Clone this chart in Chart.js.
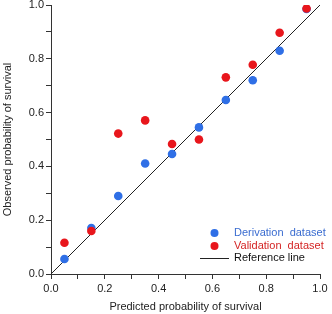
<!DOCTYPE html>
<html>
<head>
<meta charset="utf-8">
<script src="https://cdn.jsdelivr.net/npm/chart.js@4/dist/chart.umd.min.js"></script>
<style>
  html, body { margin: 0; padding: 0; background: #fff; }
  #wrap { width: 332px; height: 314px; }
</style>
</head>
<body>
<div id="wrap"><canvas id="c" width="332" height="314"></canvas></div>
<script>
// ---- data ----
const predicted = [0.05, 0.15, 0.25, 0.35, 0.45, 0.55, 0.65, 0.75, 0.85, 0.95];
const derivation = [0.056, 0.171, 0.29, 0.411, 0.446, 0.545, 0.647, 0.72, 0.83, 0.985];
const validation = [0.116, 0.16, 0.522, 0.571, 0.483, 0.5, 0.731, 0.778, 0.897, 0.987];
const referenceLine = [0, 1];
const tickValues = [0, 0.2, 0.4, 0.6, 0.8, 1.0];
const seriesNames = ['Derivation  dataset', 'Validation  dataset', 'Reference line'];
const xTitle = 'Predicted probability of survival';
const yTitle = 'Observed probability of survival';

const BLUE = '#2f6fe6';
const RED = '#e8161c';
const FONT = '"Liberation Sans", Arial, Helvetica, sans-serif';

const toPts = arr => arr.map((v, i) => ({ x: predicted[i], y: v }));

const legendPlugin = {
  id: 'customLegend',
  afterDraw(chart) {
    const ctx = chart.ctx;
    const a = chart.chartArea;
    ctx.save();
    ctx.font = '11px ' + FONT;
    ctx.textBaseline = 'middle';
    ctx.textAlign = 'left';
    const dotX = a.right - 105.5;
    const textX = a.right - 86;
    const rows = [a.bottom - 41, a.bottom - 28, a.bottom - 16];
    // Derivation
    ctx.fillStyle = BLUE;
    ctx.beginPath(); ctx.arc(dotX, rows[0], 4, 0, Math.PI * 2); ctx.fill();
    ctx.fillStyle = '#3a6cd0';
    ctx.fillText(seriesNames[0], textX, rows[0]);
    // Validation
    ctx.fillStyle = RED;
    ctx.beginPath(); ctx.arc(dotX, rows[1], 4, 0, Math.PI * 2); ctx.fill();
    ctx.fillStyle = '#d42424';
    ctx.fillText(seriesNames[1], textX, rows[1]);
    // Reference line
    ctx.strokeStyle = '#222';
    ctx.lineWidth = 1;
    ctx.beginPath();
    ctx.moveTo(a.right - 120, rows[2] + 0.5);
    ctx.lineTo(a.right - 91, rows[2] + 0.5);
    ctx.stroke();
    ctx.fillStyle = '#111';
    ctx.fillText(seriesNames[2], textX, rows[2]);
    ctx.restore();
  }
};

const tickCb = v => {
  const r = Math.round(v * 10) / 10;
  return tickValues.some(t => Math.abs(t - r) < 1e-9) ? r.toFixed(1) : '';
};

new Chart(document.getElementById('c'), {
  type: 'scatter',
  data: {
    datasets: [
      {
        label: seriesNames[2],
        type: 'line',
        data: referenceLine.map(v => ({ x: v, y: v })),
        borderColor: '#222',
        borderWidth: 1,
        pointRadius: 0,
        fill: false,
        order: 3
      },
      {
        label: seriesNames[0],
        data: toPts(derivation),
        backgroundColor: BLUE,
        borderWidth: 0,
        pointRadius: 4.3,
        order: 2
      },
      {
        label: seriesNames[1],
        data: toPts(validation),
        backgroundColor: RED,
        borderWidth: 0,
        pointRadius: 4.3,
        order: 1
      }
    ]
  },
  options: {
    responsive: false,
    animation: false,
    devicePixelRatio: 1,
    layout: { padding: { left: 0, right: 12, top: 5, bottom: 0 } },
    plugins: { legend: { display: false }, tooltip: { enabled: false } },
    scales: {
      x: {
        type: 'linear',
        min: 0, max: 1,
        afterFit(s) { s.height = 40; s.paddingLeft = 0; s.paddingRight = 0; },
        ticks: {
          stepSize: 0.1, autoSkip: false, maxRotation: 0,
          callback: tickCb,
          font: { family: FONT, size: 11 }, color: '#222', padding: 3
        },
        grid: { drawOnChartArea: false, drawTicks: true, tickLength: 5, color: '#333' },
        border: { color: '#333', width: 1 },
        title: {
          display: true, text: xTitle,
          font: { family: FONT, size: 11 }, color: '#222',
          padding: { top: 3.5, bottom: 0 }
        }
      },
      y: {
        type: 'linear',
        min: 0, max: 1,
        afterFit(s) { s.width = 51; s.paddingTop = 0; s.paddingBottom = 0; },
        ticks: {
          stepSize: 0.1, autoSkip: false,
          callback: tickCb,
          font: { family: FONT, size: 11 }, color: '#222', padding: 2
        },
        grid: { drawOnChartArea: false, drawTicks: true, tickLength: 5, color: '#333' },
        border: { color: '#333', width: 1 },
        title: {
          display: true, text: yTitle,
          font: { family: FONT, size: 11 }, color: '#222',
          padding: { top: 1.5, bottom: 0 }
        }
      }
    }
  },
  plugins: [legendPlugin]
});
</script>
</body>
</html>
